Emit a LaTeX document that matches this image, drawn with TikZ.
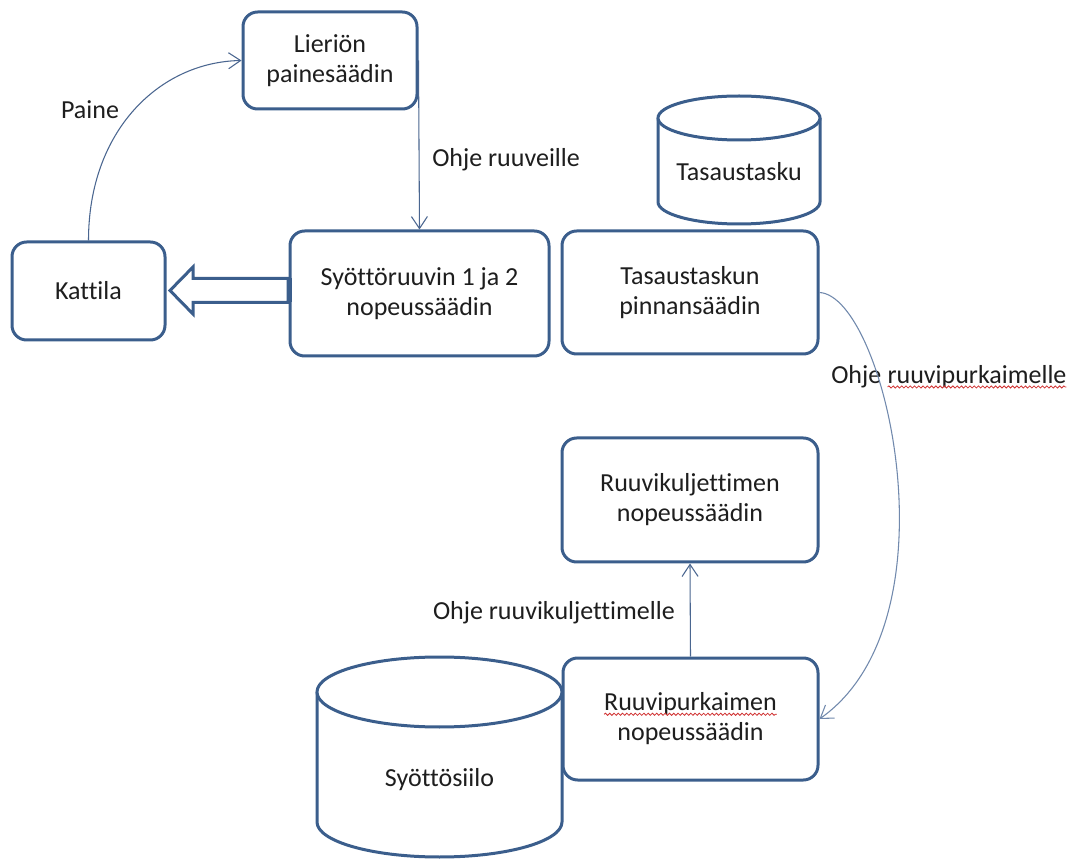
\documentclass[tikz,border=0pt]{standalone}
\usepackage{fontspec}
\setmainfont{Carlito}[Ligatures=NoCommon]
\usetikzlibrary{arrows.meta,decorations.pathmorphing}
\definecolor{boxc}{HTML}{3B5E8C}
\definecolor{linec}{HTML}{4A6690}
\definecolor{curvec}{HTML}{7189AD}
\definecolor{txt}{HTML}{1E1E1E}
\definecolor{wavec}{HTML}{D03030}
\newcommand{\wavy}[1]{\tikz[baseline=(wv.base),sharp corners]{\node[inner sep=0pt,outer sep=0pt,minimum width=0pt,minimum height=0pt,draw=none,fill=none] (wv) {#1};\draw[sharp corners,wavec,line width=0.6pt,decorate,decoration={snake,amplitude=0.8pt,segment length=3.2pt}] ([yshift=-2.5pt]wv.base west) -- ([yshift=-2.5pt]wv.base east);}}
\begin{document}
\begin{tikzpicture}[x=0.75pt,y=-0.75pt,
  font=\fontsize{19.5}{22.5}\selectfont, text=txt,
  box/.style={draw=boxc,line width=2.25pt,rounded corners=11pt,fill=white,align=center,inner sep=0pt},
  cyl/.style={draw=boxc,line width=2.25pt,fill=white},
  conn/.style={draw=linec,line width=0.8pt,-{Straight Barb[length=9pt,width=12pt]}},
  lbl/.style={inner sep=0pt}]
\useasboundingbox[fill=white] (0,0) rectangle (1076,859);

% cylinders
\draw[cyl] (658,118) -- (658,202) arc[start angle=180,end angle=0,x radius=81,y radius=22] -- (820,118);
\draw[cyl] (739,118) ellipse [x radius=81,y radius=22];
\node[lbl] (tsk) at (739,172) {Tasaustasku};

\draw[cyl] (317,692) -- (317,822) arc[start angle=180,end angle=0,x radius=122.5,y radius=35] -- (562,692);
\draw[cyl] (439.5,692) ellipse [x radius=122.5,y radius=35];
\node[lbl] (sil) at (439.5,780) {Syöttösiilo};

% boxes
\node[box,minimum width=174*0.75pt,minimum height=97*0.75pt] (lie) at (330,60.5) {Lieriön\\painesäädin};
\node[box,minimum width=153*0.75pt,minimum height=98*0.75pt] (kat) at (88.5,291) {Kattila};
\node[box,minimum width=259*0.75pt,minimum height=125*0.75pt] (syo) at (419.5,293.5) {Syöttöruuvin 1 ja 2\\nopeussäädin};
\node[box,minimum width=256*0.75pt,minimum height=123*0.75pt] (tas) at (690,292.5) {Tasaustaskun\\pinnansäädin};
\node[box,minimum width=256*0.75pt,minimum height=124*0.75pt] (kul) at (690,500) {Ruuvikuljettimen\\nopeussäädin};
\node[box,minimum width=255*0.75pt,minimum height=122*0.75pt] (pur) at (690.5,719) {\wavy{Ruuvipurkaimen}\\nopeussäädin};

% block arrow
\draw[draw=boxc,line width=2.25pt,fill=white,line join=miter] (170,290.5) -- (193,267) -- (193,278.5) -- (288,278.5) -- (288,302.5) -- (193,302.5) -- (193,314) -- cycle;
\draw[boxc,line width=3.75pt] (289.5,278.5) -- (289.5,302.5);

% labels
\node[lbl] (lpaine) at (90,110) {Paine};
\node[lbl,anchor=west] (lruu) at (432,160) {Ohje ruuveille};
\node[lbl,anchor=west] (lpur) at (831,377) {Ohje \wavy{ruuvipurkaimelle}};
\node[lbl,anchor=east] (lkul) at (675,613) {Ohje ruuvikuljettimelle};

% connectors
\draw[conn] (kat.north) .. controls (88.5,130) and (160,62) .. (lie.west);
\draw[conn] (lie.east) -- (syo.north);
\draw[conn] (pur.north) -- (kul.south);
\draw[conn,draw=curvec] (tas.east) .. controls (885,296) and (960,620) .. (pur.east);
\end{tikzpicture}
\end{document}
